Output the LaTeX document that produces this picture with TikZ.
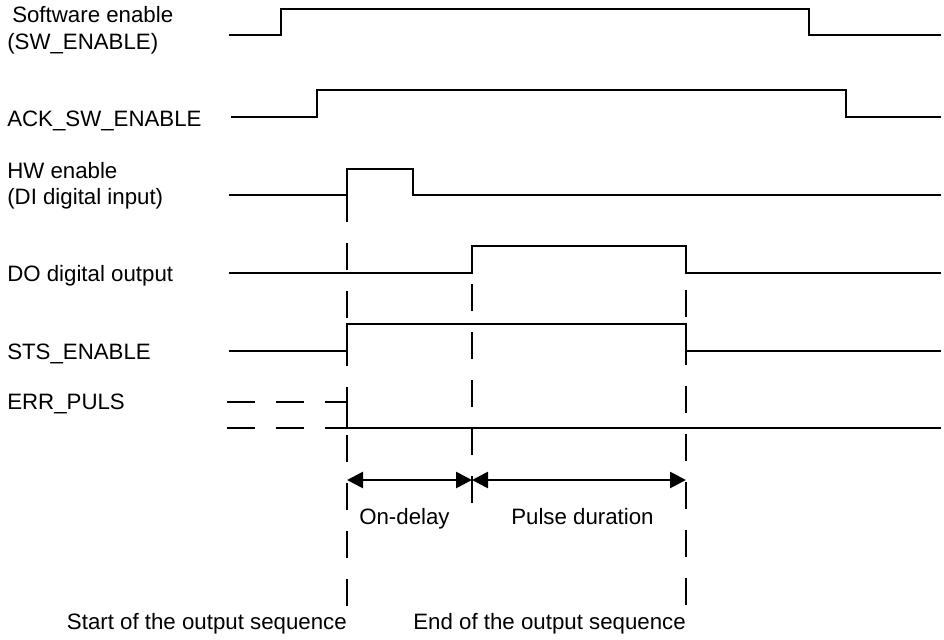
\documentclass[tikz,border=0pt]{standalone}
\usepackage{fontspec}
\setmainfont{Liberation Sans}
\usetikzlibrary{arrows.meta, positioning}

\begin{document}
\begin{tikzpicture}[
    x=0.75pt, y=-0.75pt,
    signal/.style={line width=1.2pt, line join=miter},
    marker/.style={line width=0.8pt, dash pattern=on 20.25pt off 15.75pt},
    oldlevel/.style={line width=1.2pt, dash pattern=on 21pt off 15.75pt},
    span/.style={line width=2pt, {Triangle[length=12pt,width=12pt]}-{Triangle[length=12pt,width=12pt]}},
    lbl/.style={anchor=base west, inner sep=0pt, font=\fontsize{16.7}{20}\selectfont}
]
\useasboundingbox (0,0) rectangle (944,639);

% signal names
\node[lbl] (sw) at (12,22) {Software enable};
\node[lbl] (swb) at (7,49) {(SW\_ENABLE)};
\node[lbl] (ack) at (7,126) {ACK\_SW\_ENABLE};
\node[lbl] (hw) at (7,178) {HW enable};
\node[lbl] (hwb) at (7,204) {(DI digital input)};
\node[lbl] (do) at (7,281) {DO digital output};
\node[lbl] (sts) at (7,359) {STS\_ENABLE};
\node[lbl] (err) at (7,409) {ERR\_PULS};

% waveforms
\draw[signal] (229,35) -- (281,35) -- (281,9) -- (809,9) -- (809,35) -- (941,35);
\draw[signal] (231,117) -- (317,117) -- (317,90) -- (846,90) -- (846,117) -- (941,117);
\draw[signal] (229,195) -- (347,195) -- (347,169) -- (413,169) -- (413,195) -- (941,195);
\draw[signal] (229,273) -- (472,273) -- (472,246) -- (686,246) -- (686,273) -- (941,273);
\draw[signal] (229,351) -- (347,351) -- (347,324) -- (686,324) -- (686,351) -- (941,351);
\draw[oldlevel] (227,402) -- (347,402);
\draw[oldlevel] (227,428) -- (347,428);
\draw[signal] (347,402) -- (347,428) -- (941,428);

% time markers
\draw[marker] (347,195) -- (347,606);
\draw[marker] (472,284) -- (472,503);
\draw[marker] (686,290) -- (686,605);

\coordinate (start) at (347,480);
\coordinate (delay) at (472,480);
\coordinate (stop) at (686,480);
\draw[span] (start) -- (delay);
\draw[span] (delay) -- (stop);

\node[lbl] (ondelay) at (359,524) {On-delay};
\node[lbl] (pulse) at (511,524) {Pulse duration};
\node[lbl, anchor=base east] (startseq) at (347,629) {Start of the output sequence};
\node[lbl, anchor=base east] (endseq) at (686,629) {End of the output sequence};
\end{tikzpicture}
\end{document}
